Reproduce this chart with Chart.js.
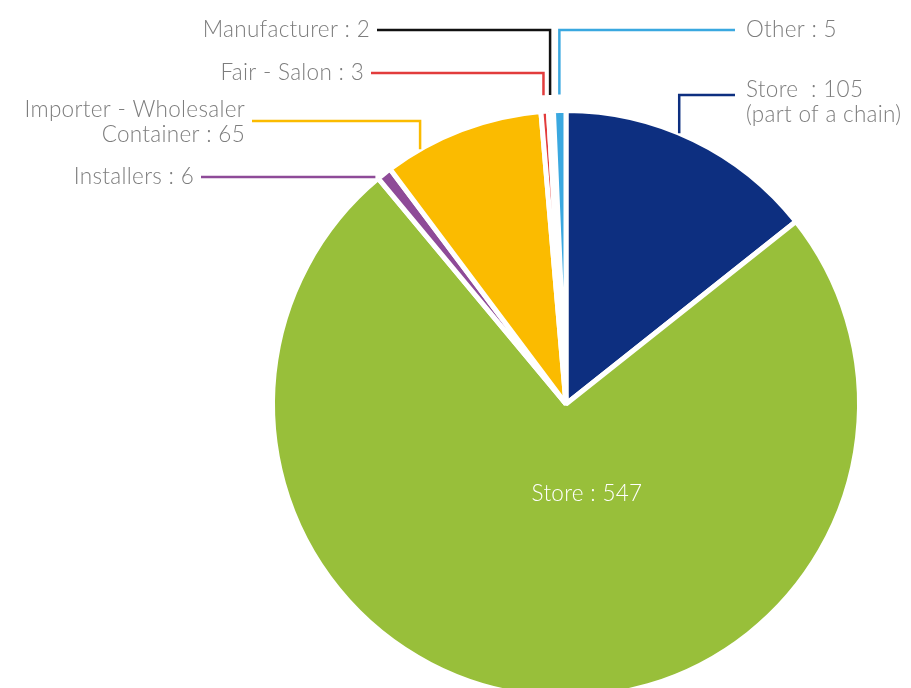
<!DOCTYPE html>
<html>
<head>
<meta charset="utf-8">
<script src="https://cdn.jsdelivr.net/npm/chart.js@4"></script>
<style>
  html, body { margin: 0; padding: 0; background: #fff; overflow: hidden; width: 911px; height: 688px; }
  #wrap { position: absolute; left: 0; top: 0; width: 911px; height: 800px; }
</style>
</head>
<body>
<div id="wrap"><canvas id="pie" width="911" height="800"></canvas></div>
<script>
// Customer types and counts, clockwise from 12 o'clock
const categories = [
  ['Store  : 105', '(part of a chain)'],
  'Store',
  'Installers',
  ['Importer - Wholesaler', 'Container'],
  'Fair - Salon',
  'Manufacturer',
  'Other'
];
const counts = [105, 547, 6, 65, 3, 2, 5];
const sliceColors = ['#0d2f80', '#98bf3a', '#8e4b98', '#fbbb00', '#e23c3c', '#111111', '#3aa8e0'];

// Callout layout: label anchor, alignment, where on the slice the leader starts
const callouts = [
  { x: 746, y: 90,  align: 'left',  frac: 0.44, elbow: 'v', gap: 0 },
  null, // the big slice is labelled inside
  { x: 194, y: 177, align: 'right', frac: 0.5,  elbow: 'h', gap: 14 },
  { x: 245, y: 110, align: 'right', frac: 0.22, elbow: 'v', lineY: 121, gap: 0 },
  { x: 364, y: 73,  align: 'right', frac: 0.5,  elbow: 'v', gap: 16 },
  { x: 370, y: 30,  align: 'right', frac: 0.5,  elbow: 'v', gap: 16 },
  { x: 746, y: 30,  align: 'left',  frac: 0.5,  elbow: 'v', gap: 16 }
];

const labelFont = '300 22.5px Lato, "Open Sans", sans-serif';
const labelColor = '#7d7d7d';

const calloutPlugin = {
  id: 'callouts',
  afterDatasetsDraw(chart) {
    const ctx = chart.ctx;
    const meta = chart.getDatasetMeta(0);
    ctx.save();
    ctx.font = labelFont;
    ctx.letterSpacing = '0.3px';
    ctx.textBaseline = 'middle';
    meta.data.forEach((arc, i) => {
      const c = callouts[i];
      const lines = Array.isArray(categories[i]) ? categories[i].slice() : [categories[i] + ' : ' + counts[i]];
      if (i === 3) { lines[1] = lines[1] + ' : ' + counts[i]; }
      const { x: cx, y: cy, startAngle, endAngle, outerRadius } = arc.getProps(['x', 'y', 'startAngle', 'endAngle', 'outerRadius'], true);
      if (!c) {
        // inside label for the dominant slice
        ctx.fillStyle = '#ffffff';
        ctx.textAlign = 'center';
        ctx.fillText(lines[0], cx + 21, cy + 90);
        return;
      }
      const ang = startAngle + (endAngle - startAngle) * c.frac;
      const r = outerRadius + c.gap;
      const ax = cx + Math.cos(ang) * r;
      const ay = cy + Math.sin(ang) * r;
      const lineY = c.lineY !== undefined ? c.lineY : (lines.length > 1 ? c.y + 5 : c.y);
      const startX = c.align === 'left' ? c.x - 11 : c.x + 7;
      ctx.strokeStyle = sliceColors[i];
      ctx.lineWidth = 2.5;
      ctx.lineCap = 'butt';
      ctx.beginPath();
      ctx.moveTo(startX, lineY);
      ctx.lineTo(ax, lineY);
      if (c.elbow === 'v') ctx.lineTo(ax, ay);
      ctx.stroke();
      ctx.fillStyle = labelColor;
      ctx.textAlign = c.align;
      lines.forEach((s, k) => ctx.fillText(s, c.x, c.y + k * 25));
    });
    ctx.restore();
  }
};

new Chart(document.getElementById('pie'), {
  type: 'pie',
  data: {
    labels: categories.map(c => Array.isArray(c) ? c.join(' ') : c),
    datasets: [{
      data: counts,
      backgroundColor: sliceColors,
      borderColor: '#ffffff',
      borderWidth: 5
    }]
  },
  options: {
    responsive: false,
    animation: false,
    layout: { padding: { left: 270, top: 108, right: 49, bottom: 100 } },
    plugins: { legend: { display: false }, tooltip: { enabled: false } }
  },
  plugins: [calloutPlugin]
});
</script>
</body>
</html>
